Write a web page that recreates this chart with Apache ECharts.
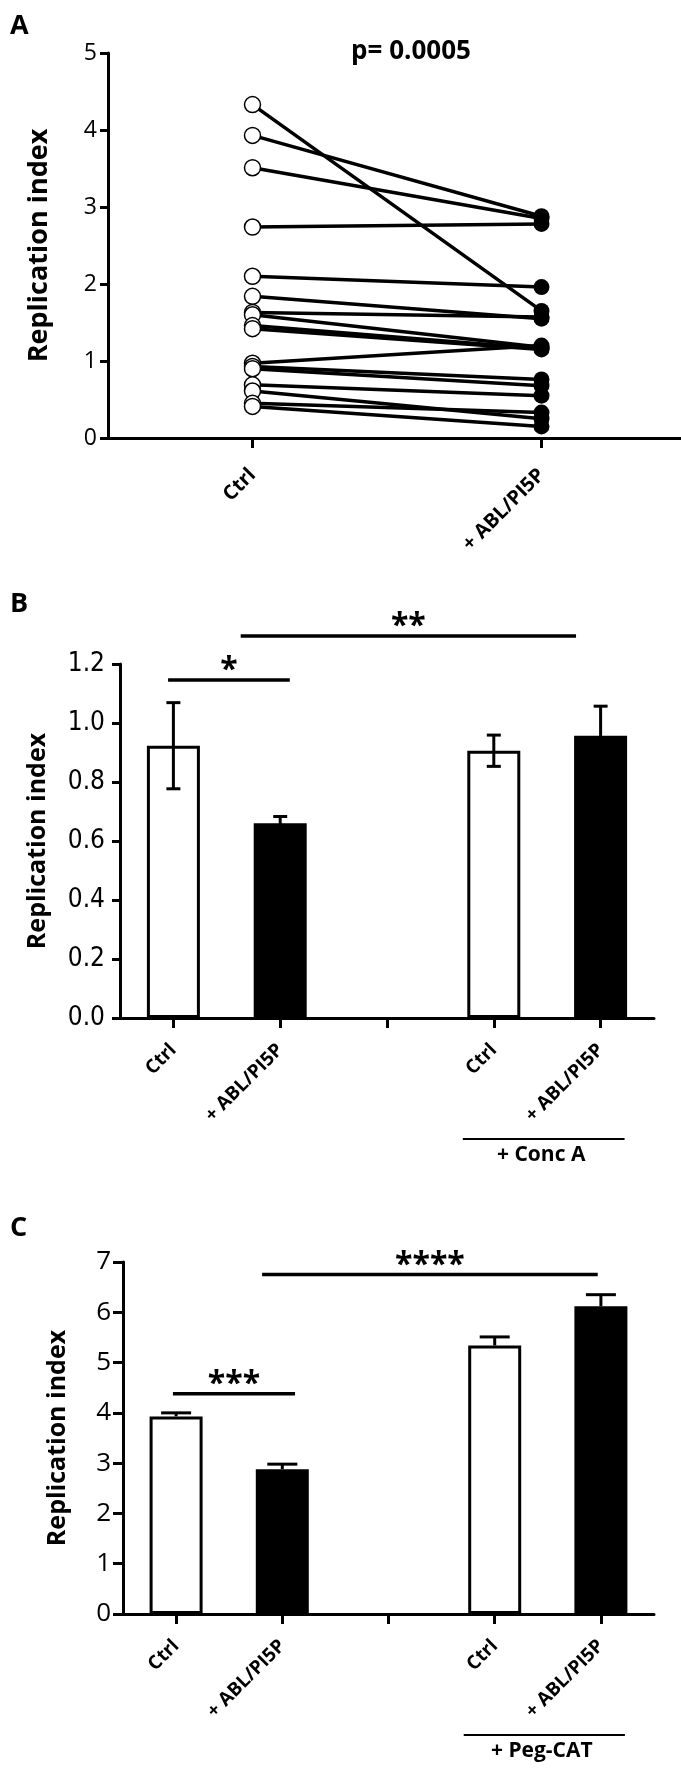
<!DOCTYPE html>
<html>
<head>
<meta charset="utf-8">
<title>Replication index</title>
<script src="https://cdn.jsdelivr.net/npm/echarts@6/dist/echarts.min.js"></script>
<style>
  html, body { margin: 0; padding: 0; background: #fff; }
  #chart { width: 681px; height: 1772px; }
</style>
</head>
<body>
<div id="chart"></div>
<script>
// panel A: paired values, Ctrl -> + ABL/PI5P
const pairCategories = ['Ctrl', '+ ABL/PI5P'];
const ctrlA = [4.33, 3.93, 3.51, 2.74, 2.10, 1.84, 1.63, 1.60, 1.46, 1.42, 0.97, 0.93, 0.90, 0.69, 0.61, 0.45, 0.41];
const ablA = [1.65, 2.88, 2.85, 2.78, 1.96, 1.55, 1.57, 1.18, 1.16, 1.15, 1.20, 0.76, 0.68, 0.55, 0.25, 0.33, 0.15];
const pValueText = 'p= 0.0005';

// panels B and C: bars (empty middle slot is the gap between groups)
const barCategories = ['Ctrl', '+ ABL/PI5P', '', 'Ctrl', '+ ABL/PI5P'];
const meanB = [0.923, 0.660, null, 0.906, 0.957];
const errB = [0.146, 0.023, null, 0.053, 0.100];
const meanC = [3.93, 2.88, null, 5.34, 6.12];
const errC = [0.07, 0.10, null, 0.17, 0.23];

// significance bars: [from, to, level, stars] in category units
const sigB = [[-0.05, 1.09, 1.146, '*'], [0.63, 3.77, 1.295, '**']];
const sigC = [[-0.03, 1.12, 4.38, '***'], [0.81, 3.97, 6.75, '****']];

const groupB = '+ Conc A';
const groupC = '+ Peg-CAT';

const BOLD_FONT = '"Open Sans", "DejaVu Sans", sans-serif';
const NARROW_FONT = '"Liberation Sans Narrow", "DejaVu Sans Condensed", sans-serif';
const PLAIN_FONT = '"Open Sans", sans-serif';

const chart = echarts.init(document.getElementById('chart'));

// margin counts from the axis line, so it includes the outward tick
function yAxisOf(gridIndex, max, interval, font, size, fmt, nameGap, nameSize, margin, tickLen) {
  return {
    type: 'value', gridIndex, min: 0, max, interval,
    name: 'Replication index', nameLocation: 'middle', nameGap,
    nameTextStyle: { fontFamily: BOLD_FONT, fontWeight: 'bold', fontSize: nameSize, color: '#000' },
    axisLine: { show: true, onZero: false, lineStyle: { color: '#000', width: 3 } },
    axisTick: { show: true, length: tickLen, lineStyle: { color: '#000', width: 3 } },
    axisLabel: { color: '#000', fontFamily: font, fontSize: size, margin, formatter: fmt },
    splitLine: { show: false }
  };
}

function catAxisOf(gridIndex, data, size, margin) {
  return {
    type: 'category', gridIndex, data,
    axisLine: { show: true, onZero: false, lineStyle: { color: '#000', width: 3 } },
    axisTick: { show: true, alignWithLabel: true, interval: 0, length: 10, lineStyle: { color: '#000', width: 3 } },
    axisLabel: {
      interval: 0, rotate: 45, margin, color: '#000',
      fontFamily: BOLD_FONT, fontWeight: 'bold', fontSize: size
    },
    splitLine: { show: false }
  };
}

// hidden value axis sharing the bar grid, category i sits at value i
function helperAxisOf(gridIndex) {
  return { type: 'value', gridIndex, min: -0.5, max: 4.5, show: false, axisLine: { onZero: false } };
}

function barFill(label) {
  return label === 'Ctrl'
    ? { color: '#fff', borderColor: '#000', borderWidth: 3 }
    : { color: '#000', borderColor: '#000', borderWidth: 3 };
}

function barSeries(xi, yi, means) {
  return {
    type: 'bar', xAxisIndex: xi, yAxisIndex: yi, barWidth: 53,
    data: means.map((m, i) => m == null ? '-' : { value: m, itemStyle: barFill(barCategories[i]) })
  };
}

function errorSeries(xi, yi, means, errs, capHalf, twoSided) {
  return {
    type: 'custom', xAxisIndex: xi, yAxisIndex: yi, z: 5,
    encode: { x: 0, y: 1 },
    data: means.map((m, i) => [i, m, errs[i]]).filter(d => d[1] != null),
    renderItem(params, api) {
      const x = api.value(0), m = api.value(1), e = api.value(2);
      const top = api.coord([x, m + e]);
      const bot = api.coord([x, twoSided ? m - e : m]);
      const st = { stroke: '#000', lineWidth: 3 };
      const kids = [
        { type: 'line', shape: { x1: top[0], y1: top[1], x2: bot[0], y2: bot[1] }, style: st },
        { type: 'line', shape: { x1: top[0] - capHalf, y1: top[1], x2: top[0] + capHalf, y2: top[1] }, style: st }
      ];
      if (twoSided) {
        kids.push({ type: 'line', shape: { x1: bot[0] - capHalf, y1: bot[1], x2: bot[0] + capHalf, y2: bot[1] }, style: st });
      }
      return { type: 'group', children: kids };
    }
  };
}

function sigSeries(xi, yi, bars) {
  return {
    type: 'custom', xAxisIndex: xi, yAxisIndex: yi, clip: false, z: 6,
    encode: { x: [0, 1], y: 2 },
    data: bars.map(b => [b[0], b[1], b[2]]),
    renderItem(params, api) {
      const a = api.coord([api.value(0), api.value(2)]);
      const b = api.coord([api.value(1), api.value(2)]);
      return {
        type: 'group',
        children: [
          { type: 'line', shape: { x1: a[0], y1: a[1], x2: b[0], y2: b[1] }, style: { stroke: '#000', lineWidth: 3.5 } },
          {
            type: 'text', x: (a[0] + b[0]) / 2, y: a[1] + 7,
            style: {
              text: bars[params.dataIndex][3], fill: '#000', align: 'center', verticalAlign: 'bottom',
              font: 'bold 32px ' + BOLD_FONT
            }
          }
        ]
      };
    }
  };
}

// line + caption under the last two categories
function groupSeries(xi, yi, text) {
  return {
    type: 'custom', xAxisIndex: xi, yAxisIndex: yi, clip: false,
    encode: { x: [0, 1], y: 2 },
    data: [[3, 4, 0]],
    renderItem(params, api) {
      const a = api.coord([api.value(0), 0]);
      const b = api.coord([api.value(1), 0]);
      const y = a[1] + 121;
      return {
        type: 'group',
        children: [
          { type: 'line', shape: { x1: a[0] - 31, y1: y, x2: b[0] + 24, y2: y }, style: { stroke: '#000', lineWidth: 2 } },
          {
            type: 'text', x: (a[0] + b[0]) / 2 - 6, y: y + 6,
            style: { text, fill: '#000', align: 'center', verticalAlign: 'top', font: 'bold 21px ' + BOLD_FONT }
          }
        ]
      };
    }
  };
}

const pairLines = ctrlA.map((c, i) => ({
  type: 'line', xAxisIndex: 0, yAxisIndex: 0, symbol: 'none', z: 2,
  lineStyle: { color: '#000', width: 3.5 },
  data: [[0, c], [1, ablA[i]]]
}));

const letterStyle = { fontFamily: BOLD_FONT, fontWeight: 'bold', fontSize: 27, color: '#000' };

const option = {
  animation: false,
  backgroundColor: '#fff',
  title: [
    { text: 'A', left: 5, top: 8, textStyle: letterStyle },
    { text: pValueText, left: 406, top: 34, textAlign: 'center', textStyle: { fontFamily: BOLD_FONT, fontWeight: 'bold', fontSize: 26, color: '#000' } },
    { text: 'B', left: 5, top: 586, textStyle: letterStyle },
    { text: 'C', left: 5, top: 1210, textStyle: letterStyle }
  ],
  grid: [
    { left: 108, top: 53, width: 578, height: 385, outerBoundsMode: 'none' },
    { left: 120, top: 664, width: 534, height: 354, outerBoundsMode: 'none' },
    { left: 123, top: 1262, width: 531, height: 352, outerBoundsMode: 'none' }
  ],
  xAxis: [
    catAxisOf(0, pairCategories, 20, 34),
    catAxisOf(1, barCategories, 19, 29),
    helperAxisOf(1),
    catAxisOf(2, barCategories, 19, 29),
    helperAxisOf(2)
  ],
  yAxis: [
    yAxisOf(0, 5, 1, PLAIN_FONT, 23, v => v, 55, 27, 11, 8),
    yAxisOf(1, 1.2, 0.2, NARROW_FONT, 26, v => v.toFixed(1), 70, 25, 15, 8),
    yAxisOf(2, 7, 1, PLAIN_FONT, 26, v => v, 53, 25, 12, 10)
  ],
  series: [
    ...pairLines,
    {
      type: 'scatter', xAxisIndex: 0, yAxisIndex: 0, z: 3, symbolSize: 16,
      itemStyle: { color: '#fff', borderColor: '#000', borderWidth: 1.5, opacity: 1 },
      data: ctrlA.map(v => [0, v])
    },
    {
      type: 'scatter', xAxisIndex: 0, yAxisIndex: 0, z: 3, symbolSize: 16,
      itemStyle: { color: '#000', opacity: 1 },
      data: ablA.map(v => [1, v])
    },
    barSeries(1, 1, meanB),
    errorSeries(1, 1, meanB, errB, 7, true),
    sigSeries(2, 1, sigB),
    groupSeries(2, 1, groupB),
    barSeries(3, 2, meanC),
    errorSeries(3, 2, meanC, errC, 15, false),
    sigSeries(4, 2, sigC),
    groupSeries(4, 2, groupC)
  ]
};

chart.setOption(option);
</script>
</body>
</html>
